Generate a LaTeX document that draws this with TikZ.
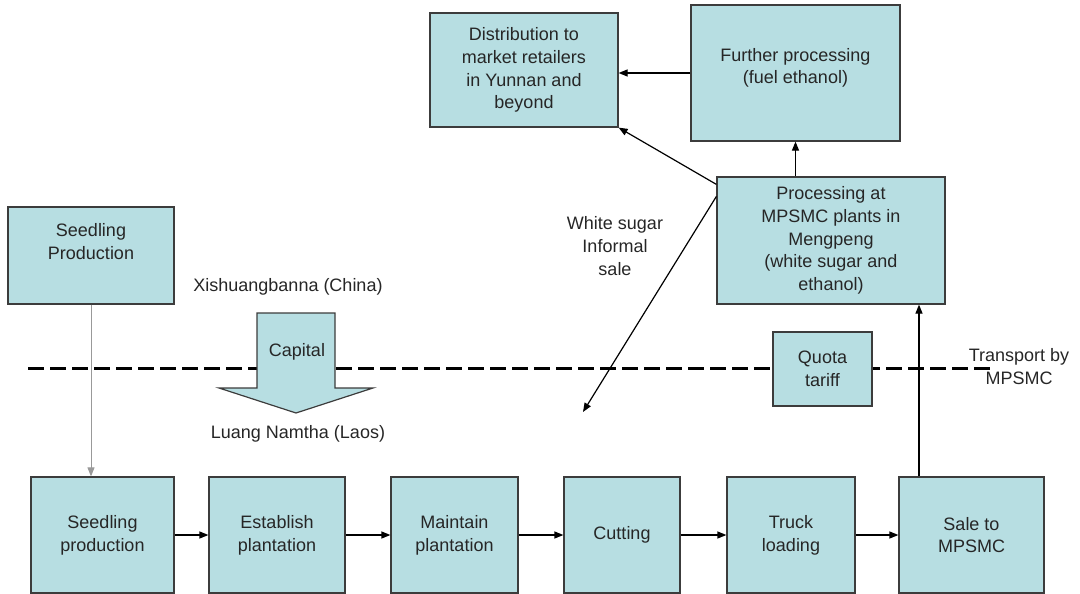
\documentclass[tikz,border=0pt]{standalone}
\usepackage{fontspec}
\setmainfont{Liberation Sans}
\usepackage{tikz}
\usetikzlibrary{arrows.meta}

\definecolor{boxfill}{RGB}{183,222,226}
\definecolor{boxline}{RGB}{60,60,60}

\begin{document}
\begin{tikzpicture}[
    x=1pt, y=-1pt,
    font=\fontsize{18}{22.7}\selectfont,
    box/.style={rectangle, draw=boxline, line width=1.2pt, fill=boxfill, align=center, inner sep=0pt, text=black!85},
    size/.style 2 args={minimum width=#1pt, minimum height=#2pt},
    txt/.style={align=center, inner sep=0pt, text=black!85},
    edge/.style={-{Triangle[length=9pt,width=7pt]}, line width=1.2pt},
    grayedge/.style={-{Triangle[length=9pt,width=7pt]}, line width=1pt, draw=black!40},
    border/.style={line width=3pt, dash pattern=on 16pt off 6pt},
    capshape/.style={draw=boxline, line width=1.2pt, fill=boxfill}
]
    \useasboundingbox (0,0) rectangle (1080,594);

    % border line between China and Laos
    \draw[border] (28,368) -- (995,368);

    % upper boxes
    \node[box, size={166}{97}, text depth=28pt] (seedTop) at (91,255.5) {Seedling\\Production};
    \node[box, size={188}{114}] (distrib) at (524,70) {Distribution to\\market retailers\\in Yunnan and\\beyond};
    \node[box, size={209}{136}, text depth=14pt] (further) at (795.5,73) {Further processing\\(fuel ethanol)};
    \node[box, size={228}{127}] (procs) at (831,240.5) {Processing at\\MPSMC plants in\\Mengpeng\\(white sugar and\\ethanol)};
    \node[box, size={99}{74}] (quota) at (822.5,369) {Quota\\tariff};

    % chain of boxes in Laos
    \node[box, size={143}{116}] (b1) at (102.5,535) {Seedling\\production};
    \node[box, size={136}{116}] (b2) at (277,535) {Establish\\plantation};
    \node[box, size={127}{116}] (b3) at (454.5,535) {Maintain\\plantation};
    \node[box, size={116}{116}] (b4) at (622,535) {Cutting};
    \node[box, size={128}{116}] (b5) at (791,535) {Truck\\loading};
    \node[box, size={145}{116}] (b6) at (971.5,535) {Sale to\\MPSMC};

    % capital arrow
    \draw[capshape] (257,313) -- (335,313) -- (335,388) -- (373,388) -- (296,413)
        -- (219,388) -- (257,388) -- cycle;
    \node[txt] (capital) at (297,352) {Capital};

    % labels
    \node[txt] (china) at (288,287) {Xishuangbanna (China)};
    \node[txt] (laos) at (298,434) {Luang Namtha (Laos)};
    \node[txt] (informal) at (615,246) {White sugar\\Informal\\sale};
    \node[txt] (transport) at (1019,366.5) {Transport by\\MPSMC};

    \coordinate (upX) at (919,0);
    \coordinate (saleEnd) at (583,412);

    % connectors
    \draw[grayedge] (seedTop.south) -- (seedTop.south |- b1.north);
    \foreach \a/\b in {b1/b2, b2/b3, b3/b4, b4/b5, b5/b6} {
        \draw[edge] (\a) -- (\b);
    }
    \draw[edge] (b6.north -| upX) -- (procs.south -| upX);
    \draw[edge] (procs.north -| further.south) -- (further.south);
    \draw[edge] (further.west) -- (further.west -| distrib.east);
    \draw[edge] ([yshift=-8pt]procs.north west) -- (distrib.south east);
    \draw[edge] ([yshift=-20pt]procs.north west) -- (saleEnd);

\end{tikzpicture}
\end{document}
